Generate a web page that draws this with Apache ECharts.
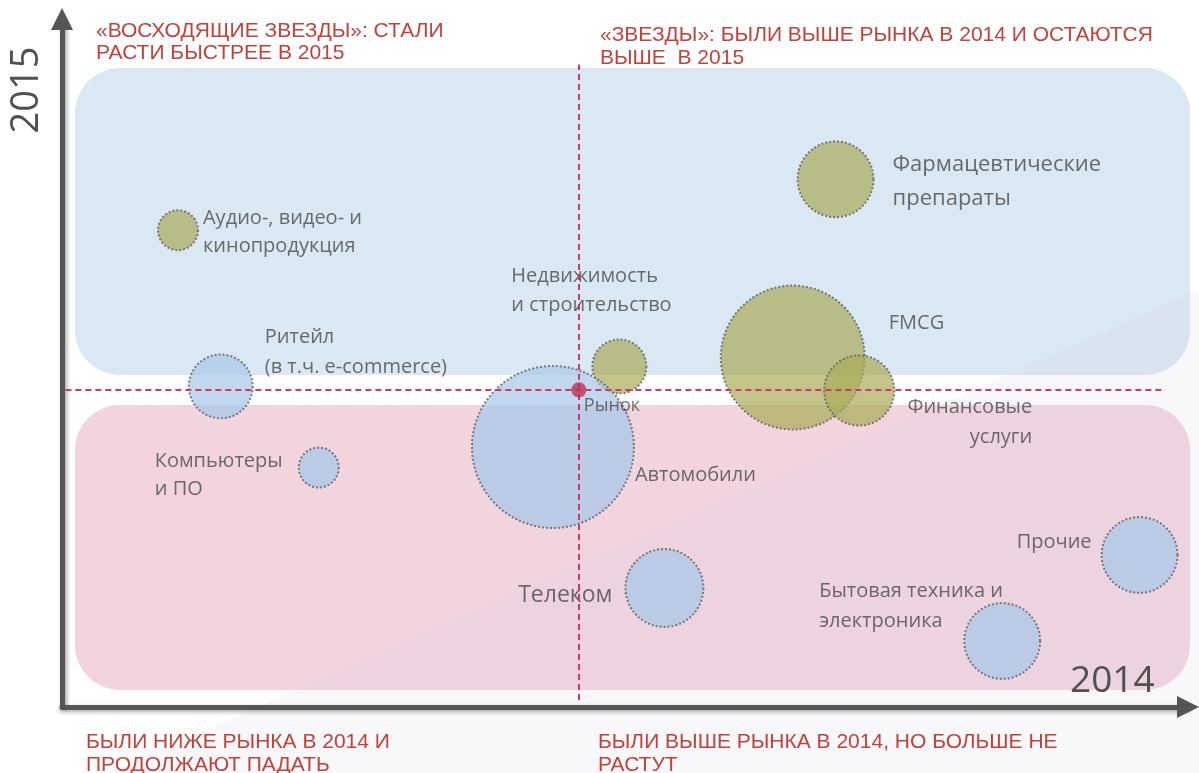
<!DOCTYPE html>
<html>
<head>
<meta charset="utf-8">
<script src="https://cdn.jsdelivr.net/npm/echarts@6/dist/echarts.min.js"></script>
<style>
html,body{margin:0;padding:0;background:#fff;}
#chart{width:1199px;height:773px;}
</style>
</head>
<body>
<div id="chart"></div>
<script>
// отрасли
var names = ['Фармацевтические\nпрепараты', 'Аудио-, видео- и\nкинопродукция', 'FMCG', 'Финансовые\nуслуги',
    'Недвижимость\nи строительство', 'Ритейл\n(в т.ч. e-commerce)', 'Автомобили', 'Компьютеры\nи ПО',
    'Телеком', 'Прочие', 'Бытовая техника и\nэлектроника'];
// рост 2014 (ось X), рост 2015 (ось Y), условные единицы
var growth2014 = [68.7, 10.3, 64.9, 70.8, 49.5, 14.1, 43.6, 22.8, 53.5, 95.7, 83.5];
var growth2015 = [76.7, 69.3, 50.8, 46.0, 49.5, 46.6, 37.8, 34.8, 17.3, 22.1, 9.6];
// размер рынка (площадь пузыря)
var volume = [14.4, 4.0, 51.8, 12.3, 7.3, 10.2, 65.6, 4.0, 15.2, 14.4, 14.4];
// группа цвета: 1 - растут (оливковые), 0 - остальные (голубые)
var group = [1, 1, 1, 1, 1, 0, 0, 0, 0, 0, 0];
// рынок в целом
var market = [45.9, 46.1];

// подписи: выравнивание, смещение от центра, размер шрифта
var labelStyle = [
    {align: 'left', dx: 57, dy: 2, size: 22, lh: 34},
    {align: 'left', dx: 25, dy: 2, size: 20, lh: 28},
    {align: 'left', dx: 96, dy: -34, size: 20, lh: 28},
    {align: 'right', dx: 173, dy: 32, size: 20, lh: 30},
    {align: 'left', dx: -108, dy: -76, size: 20, lh: 29},
    {align: 'left', dx: 44, dy: -34, size: 20, lh: 30},
    {align: 'left', dx: 82, dy: 28, size: 20, lh: 28},
    {align: 'left', dx: -164, dy: 8, size: 20, lh: 28},
    {align: 'right', dx: -52, dy: 7, size: 23, lh: 28},
    {align: 'right', dx: -48, dy: -13, size: 20, lh: 28},
    {align: 'left', dx: -183, dy: -35, size: 20, lh: 30}
];

var colors = ['rgba(168,200,232,0.9)', 'rgba(170,171,88,0.88)'];

var bubbles = names.map(function (n, i) {
    var ls = labelStyle[i];
    return {
        name: n,
        value: [growth2014[i], growth2015[i], volume[i]],
        itemStyle: {color: colors[group[i]]},
        label: {
            show: true,
            position: 'inside',
            formatter: n,
            align: ls.align,
            verticalAlign: 'middle',
            offset: [ls.dx, ls.dy],
            fontSize: ls.size,
            lineHeight: ls.lh,
            color: '#4a4a4a',
            fontFamily: 'Open Sans'
        }
    };
});

var redText = '#c0433b';
var mychart = echarts.init(document.getElementById('chart'));
var option = {
    animation: false,
    grid: {left: 62, right: 11, top: 19, bottom: 66},
    xAxis: {
        type: 'value', min: 0, max: 100,
        axisLine: {
            show: true, symbol: ['none', 'triangle'], symbolSize: [22, 22],
            lineStyle: {color: '#555', width: 5, shadowColor: 'rgba(0,0,0,0.35)', shadowBlur: 4, shadowOffsetY: 2}
        },
        axisTick: {show: false}, axisLabel: {show: false}, splitLine: {show: false}
    },
    yAxis: {
        type: 'value', min: 0, max: 100,
        axisLine: {
            show: true, symbol: ['none', 'triangle'], symbolSize: [22, 22],
            lineStyle: {color: '#555', width: 5, shadowColor: 'rgba(0,0,0,0.35)', shadowBlur: 4, shadowOffsetX: 2}
        },
        axisTick: {show: false}, axisLabel: {show: false}, splitLine: {show: false}
    },
    graphic: [
        {type: 'rect', z: -10, shape: {x: 75, y: 68, width: 1115, height: 307, r: 45}, style: {fill: '#d9e8f3'}},
        {type: 'rect', z: -10, shape: {x: 75, y: 405, width: 1115, height: 285, r: 45}, style: {fill: '#f1d4de'}},
        {type: 'polygon', z: -9, shape: {points: [[110, 773], [1199, 290], [1199, 773]]}, style: {fill: 'rgba(215,210,225,0.18)'}},
        {type: 'text', z: 10, x: 96, y: 20, style: {text: '«ВОСХОДЯЩИЕ ЗВЕЗДЫ»: СТАЛИ\nРАСТИ БЫСТРЕЕ В 2015', fill: redText, font: '21px "Liberation Sans"', lineHeight: 22}},
        {type: 'text', z: 10, x: 600, y: 24, style: {text: '«ЗВЕЗДЫ»: БЫЛИ ВЫШЕ РЫНКА В 2014 И ОСТАЮТСЯ\nВЫШЕ  В 2015', fill: redText, font: '21px "Liberation Sans"', lineHeight: 23}},
        {type: 'text', z: 10, x: 86, y: 731, style: {text: 'БЫЛИ НИЖЕ РЫНКА В 2014 И\nПРОДОЛЖАЮТ ПАДАТЬ', fill: redText, font: '21px "Liberation Sans"', lineHeight: 23}},
        {type: 'text', z: 10, x: 598, y: 731, style: {text: 'БЫЛИ ВЫШЕ РЫНКА В 2014, НО БОЛЬШЕ НЕ\nРАСТУТ', fill: redText, font: '21px "Liberation Sans"', lineHeight: 23}},
        {type: 'text', z: 10, x: 1070, y: 681, style: {text: '2014', fill: '#505050', font: '37px "Open Sans"', verticalAlign: 'middle'}},
        {type: 'text', z: 10, x: 27, y: 90, rotation: Math.PI / 2, style: {text: '2015', fill: '#505050', font: '38px "Open Sans"', align: 'center', verticalAlign: 'middle'}}
    ],
    series: [
        {
            name: 'Отрасли',
            type: 'scatter',
            data: bubbles,
            symbolSize: function (v) { return 20 * Math.sqrt(v[2]); },
            itemStyle: {borderColor: '#5f5f5f', borderWidth: 2, borderType: [2, 2]},
            emphasis: {disabled: true}
        },
        {
            name: 'Рынок',
            type: 'scatter',
            z: 5,
            data: [{name: 'Рынок', value: market}],
            symbolSize: 15,
            itemStyle: {color: '#c0305a'},
            label: {
                show: true, position: 'inside', formatter: 'Рынок', align: 'left', verticalAlign: 'middle',
                offset: [5, 16], fontSize: 18, color: '#4a4a4a', fontFamily: 'Open Sans'
            },
            emphasis: {disabled: true},
            markLine: {
                silent: true,
                symbol: ['none', 'none'],
                label: {show: false},
                lineStyle: {color: '#d0386a', width: 2, type: [6, 4]},
                data: [
                    [{coord: [market[0], 1]}, {coord: [market[0], 93.4]}],
                    [{coord: [0.3, market[1]]}, {coord: [98, market[1]]}]
                ]
            }
        }
    ]
};
mychart.setOption(option);
</script>
</body>
</html>
